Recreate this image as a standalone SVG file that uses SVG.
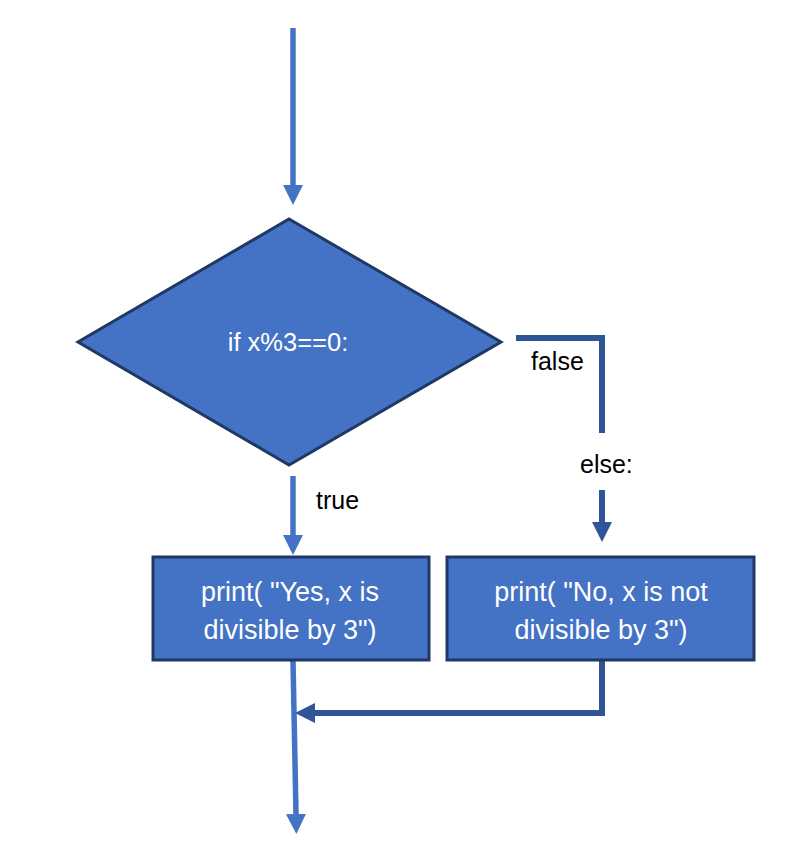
<svg xmlns="http://www.w3.org/2000/svg" width="786" height="854" viewBox="0 0 786 854">
<style>
.shape{fill:#4472C4;stroke:#1F3864;stroke-width:3}
.lt{fill:none;stroke:#4472C4;stroke-width:5.5}
.dk{fill:none;stroke:#2F5597;stroke-width:6}
.wt{font-family:"Liberation Sans",Arial,sans-serif;fill:#FFFFFF;text-anchor:middle}
.lbl{font-family:"Liberation Sans",Arial,sans-serif;fill:#000000;font-size:25px}
</style>
<defs>
<marker id="ahL" markerUnits="userSpaceOnUse" markerWidth="20" markerHeight="20" viewBox="0 0 18 18" refX="0" refY="9" orient="auto">
<path d="M0,0 L18,9 L0,18 Z" fill="#4472C4"/>
</marker>
<marker id="ahD" markerUnits="userSpaceOnUse" markerWidth="20" markerHeight="20" viewBox="0 0 18 18" refX="0" refY="9" orient="auto">
<path d="M0,0 L18,9 L0,18 Z" fill="#2F5597"/>
</marker>
</defs>
<rect width="786" height="854" fill="#FFFFFF"/>
<g id="connectors">
<line class="lt" x1="293" y1="28" x2="293" y2="185" marker-end="url(#ahL)"/>
<polyline class="dk" points="516,338 602,338 602,433"/>
<line class="dk" x1="602" y1="490" x2="602" y2="522" marker-end="url(#ahD)"/>
<line class="lt" x1="293" y1="476" x2="293" y2="535" marker-end="url(#ahL)"/>
<line class="lt" x1="293" y1="661" x2="296" y2="814" marker-end="url(#ahL)"/>
<polyline class="dk" points="602,657 602,713 315,713" marker-end="url(#ahD)"/>
</g>
<g id="decision">
<polygon class="shape" points="289,219 501,342 289,465 78,342"/>
<text class="wt" x="288" y="351" font-size="25.5">if x%3==0:</text>
</g>
<g id="label-false"><text class="lbl" x="531" y="370">false</text></g>
<g id="label-else"><text class="lbl" x="580" y="473">else:</text></g>
<g id="label-true"><text class="lbl" x="316" y="509">true</text></g>
<g id="yes-box">
<rect class="shape" x="153" y="557" width="276" height="103"/>
<text class="wt" x="290" y="601" font-size="27">print( "Yes, x is</text>
<text class="wt" x="290" y="639" font-size="27">divisible by 3")</text>
</g>
<g id="no-box">
<rect class="shape" x="447" y="557" width="307" height="103"/>
<text class="wt" x="601" y="601" font-size="27">print( "No, x is not</text>
<text class="wt" x="601" y="639" font-size="27">divisible by 3")</text>
</g>
</svg>
